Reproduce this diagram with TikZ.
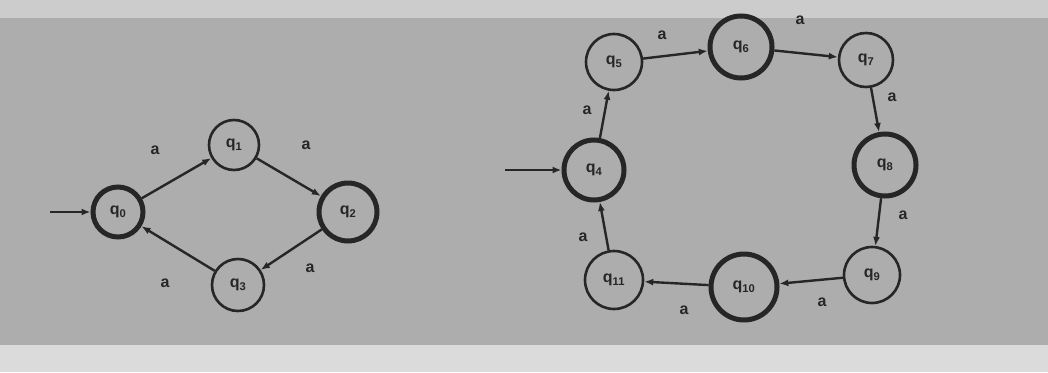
\documentclass[tikz,border=0pt]{standalone}
\usepackage{fontspec}
\setmainfont{Liberation Sans}
\usetikzlibrary{arrows.meta}
\begin{document}
\begin{tikzpicture}[x=1pt,y=-1pt,
  st/.style={circle,draw=black!85,line width=2.6pt,inner sep=0pt,font=\bfseries\fontsize{16}{16}\selectfont,text=black!85},
  acc/.style={st,line width=5pt},
  tr/.style={draw=black!85,line width=2.4pt,-{Latex[length=9pt,width=7pt]}},
  lab/.style={font=\bfseries\fontsize{16}{16}\selectfont,text=black!85}]
\useasboundingbox (0,0) rectangle (1048,372);
\fill[black!32] (0,0) rectangle (1048,372);
\fill[black!20] (0,0) rectangle (1048,18);
\fill[black!14] (0,345) rectangle (1048,372);
% left automaton
\node[acc,minimum size=50pt] (q0) at (118,212) {q\textsubscript{0}};
\node[st,minimum size=50pt] (q1) at (234,145) {q\textsubscript{1}};
\node[acc,minimum size=58pt] (q2) at (348,212) {q\textsubscript{2}};
\node[st,minimum size=52pt] (q3) at (238,285) {q\textsubscript{3}};
\coordinate (s0) at (50,212);
\draw[tr] (s0) -- (q0);
\draw[tr] (q0) -- (q1);
\draw[tr] (q1) -- (q2);
\draw[tr] (q2) -- (q3);
\draw[tr] (q3) -- (q0);
\node[lab] (l01) at (155,150) {a};
\node[lab] (l12) at (306,145) {a};
\node[lab] (l23) at (310,268) {a};
\node[lab] (l30) at (165,283) {a};
% right automaton
\node[acc,minimum size=60pt] (q4) at (594,170) {q\textsubscript{4}};
\node[st,minimum size=56pt] (q5) at (614,62) {q\textsubscript{5}};
\node[acc,minimum size=62pt] (q6) at (741,47) {q\textsubscript{6}};
\node[st,minimum size=54pt] (q7) at (866,60) {q\textsubscript{7}};
\node[acc,minimum size=62pt] (q8) at (885,165) {q\textsubscript{8}};
\node[st,minimum size=56pt] (q9) at (872,275) {q\textsubscript{9}};
\node[acc,minimum size=66pt] (q10) at (744,287) {q\textsubscript{10}};
\node[st,minimum size=58pt] (q11) at (614,280) {q\textsubscript{11}};
\coordinate (s4) at (505,170);
\draw[tr] (s4) -- (q4);
\draw[tr] (q4) -- (q5);
\draw[tr] (q5) -- (q6);
\draw[tr] (q6) -- (q7);
\draw[tr] (q7) -- (q8);
\draw[tr] (q8) -- (q9);
\draw[tr] (q9) -- (q10);
\draw[tr] (q10) -- (q11);
\draw[tr] (q11) -- (q4);
\node[lab] (l45) at (587,110) {a};
\node[lab] (l56) at (662,35) {a};
\node[lab] (l67) at (800,20) {a};
\node[lab] (l78) at (892,97) {a};
\node[lab] (l89) at (903,215) {a};
\node[lab] (l910) at (822,302) {a};
\node[lab] (l1011) at (684,310) {a};
\node[lab] (l114) at (583,237) {a};
\end{tikzpicture}
\end{document}
